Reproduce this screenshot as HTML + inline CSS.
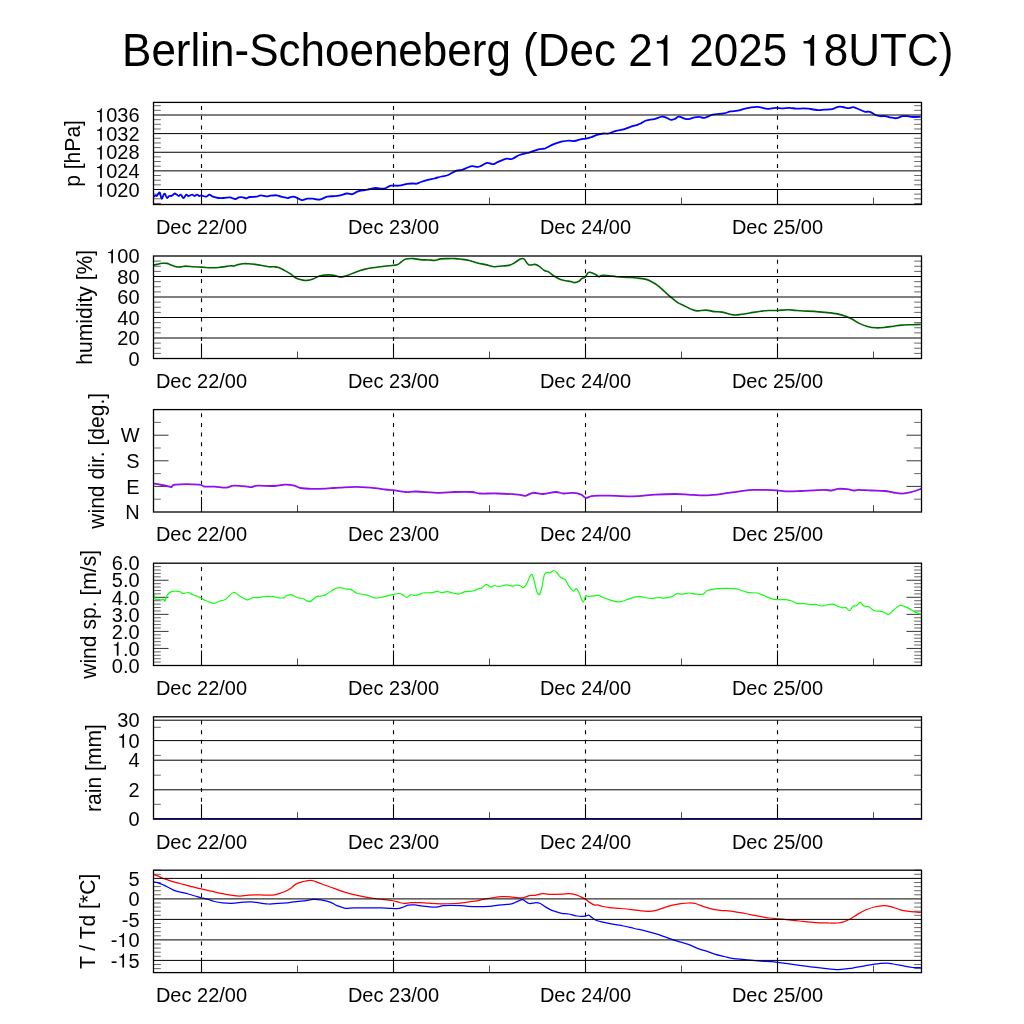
<!DOCTYPE html>
<html><head><meta charset="utf-8"><style>
html,body{margin:0;padding:0;background:#fff;}
svg{display:block;will-change:transform;}
text{font-family:"Liberation Sans",sans-serif;fill:#000;}
</style></head><body>
<svg width="1024" height="1024" viewBox="0 0 1024 1024">
<rect width="1024" height="1024" fill="#fff"/>
<g transform="translate(537.7,65.7) scale(1,1.047)"><text x="0" y="0" text-anchor="middle" font-size="44">Berlin-Schoeneberg (Dec 2  2025  8UTC)</text><path d="M512,0 L689,0 L689,1369 L600,1369 C570,1230 470,1110 300,1094 L196,1094 L196,990 L340,990 C420,990 480,970 512,925 Z" transform="translate(114.90,0) scale(0.02148,-0.02148)"/><path d="M512,0 L689,0 L689,1369 L600,1369 C570,1230 470,1110 300,1094 L196,1094 L196,990 L340,990 C420,990 480,970 512,925 Z" transform="translate(261.66,0) scale(0.02148,-0.02148)"/></g>
<line x1="153.50" y1="203.46" x2="160.80" y2="203.46" stroke="#000" stroke-width="0.6" />
<line x1="914.20" y1="203.46" x2="921.50" y2="203.46" stroke="#000" stroke-width="0.6" />
<line x1="153.50" y1="198.81" x2="160.80" y2="198.81" stroke="#000" stroke-width="0.6" />
<line x1="914.20" y1="198.81" x2="921.50" y2="198.81" stroke="#000" stroke-width="0.6" />
<line x1="153.50" y1="194.15" x2="160.80" y2="194.15" stroke="#000" stroke-width="0.6" />
<line x1="914.20" y1="194.15" x2="921.50" y2="194.15" stroke="#000" stroke-width="0.6" />
<line x1="153.50" y1="184.84" x2="160.80" y2="184.84" stroke="#000" stroke-width="0.6" />
<line x1="914.20" y1="184.84" x2="921.50" y2="184.84" stroke="#000" stroke-width="0.6" />
<line x1="153.50" y1="180.18" x2="160.80" y2="180.18" stroke="#000" stroke-width="0.6" />
<line x1="914.20" y1="180.18" x2="921.50" y2="180.18" stroke="#000" stroke-width="0.6" />
<line x1="153.50" y1="175.53" x2="160.80" y2="175.53" stroke="#000" stroke-width="0.6" />
<line x1="914.20" y1="175.53" x2="921.50" y2="175.53" stroke="#000" stroke-width="0.6" />
<line x1="153.50" y1="166.22" x2="160.80" y2="166.22" stroke="#000" stroke-width="0.6" />
<line x1="914.20" y1="166.22" x2="921.50" y2="166.22" stroke="#000" stroke-width="0.6" />
<line x1="153.50" y1="161.56" x2="160.80" y2="161.56" stroke="#000" stroke-width="0.6" />
<line x1="914.20" y1="161.56" x2="921.50" y2="161.56" stroke="#000" stroke-width="0.6" />
<line x1="153.50" y1="156.90" x2="160.80" y2="156.90" stroke="#000" stroke-width="0.6" />
<line x1="914.20" y1="156.90" x2="921.50" y2="156.90" stroke="#000" stroke-width="0.6" />
<line x1="153.50" y1="147.59" x2="160.80" y2="147.59" stroke="#000" stroke-width="0.6" />
<line x1="914.20" y1="147.59" x2="921.50" y2="147.59" stroke="#000" stroke-width="0.6" />
<line x1="153.50" y1="142.94" x2="160.80" y2="142.94" stroke="#000" stroke-width="0.6" />
<line x1="914.20" y1="142.94" x2="921.50" y2="142.94" stroke="#000" stroke-width="0.6" />
<line x1="153.50" y1="138.28" x2="160.80" y2="138.28" stroke="#000" stroke-width="0.6" />
<line x1="914.20" y1="138.28" x2="921.50" y2="138.28" stroke="#000" stroke-width="0.6" />
<line x1="153.50" y1="128.97" x2="160.80" y2="128.97" stroke="#000" stroke-width="0.6" />
<line x1="914.20" y1="128.97" x2="921.50" y2="128.97" stroke="#000" stroke-width="0.6" />
<line x1="153.50" y1="124.31" x2="160.80" y2="124.31" stroke="#000" stroke-width="0.6" />
<line x1="914.20" y1="124.31" x2="921.50" y2="124.31" stroke="#000" stroke-width="0.6" />
<line x1="153.50" y1="119.66" x2="160.80" y2="119.66" stroke="#000" stroke-width="0.6" />
<line x1="914.20" y1="119.66" x2="921.50" y2="119.66" stroke="#000" stroke-width="0.6" />
<line x1="153.50" y1="110.34" x2="160.80" y2="110.34" stroke="#000" stroke-width="0.6" />
<line x1="914.20" y1="110.34" x2="921.50" y2="110.34" stroke="#000" stroke-width="0.6" />
<line x1="153.50" y1="105.69" x2="160.80" y2="105.69" stroke="#000" stroke-width="0.6" />
<line x1="914.20" y1="105.69" x2="921.50" y2="105.69" stroke="#000" stroke-width="0.6" />
<line x1="201.50" y1="106.10" x2="201.50" y2="189.50" stroke="#000" stroke-width="1.1" stroke-dasharray="4 5.65"/>
<line x1="201.50" y1="189.50" x2="201.50" y2="204.50" stroke="#000" stroke-width="1.1" />
<line x1="393.50" y1="106.10" x2="393.50" y2="189.50" stroke="#000" stroke-width="1.1" stroke-dasharray="4 5.65"/>
<line x1="393.50" y1="189.50" x2="393.50" y2="204.50" stroke="#000" stroke-width="1.1" />
<line x1="585.50" y1="106.10" x2="585.50" y2="189.50" stroke="#000" stroke-width="1.1" stroke-dasharray="4 5.65"/>
<line x1="585.50" y1="189.50" x2="585.50" y2="204.50" stroke="#000" stroke-width="1.1" />
<line x1="777.50" y1="106.10" x2="777.50" y2="189.50" stroke="#000" stroke-width="1.1" stroke-dasharray="4 5.65"/>
<line x1="777.50" y1="189.50" x2="777.50" y2="204.50" stroke="#000" stroke-width="1.1" />
<line x1="297.50" y1="197.50" x2="297.50" y2="204.50" stroke="#000" stroke-width="0.7" />
<line x1="489.50" y1="197.50" x2="489.50" y2="204.50" stroke="#000" stroke-width="0.7" />
<line x1="681.50" y1="197.50" x2="681.50" y2="204.50" stroke="#000" stroke-width="0.7" />
<line x1="873.50" y1="197.50" x2="873.50" y2="204.50" stroke="#000" stroke-width="0.7" />
<path d="M153.8,196.7 C154.08,196.47 155.00,195.42 155.5,195.3 C156.00,195.18 156.35,196.23 156.8,196.0 C157.25,195.77 157.70,194.47 158.2,193.9 C158.70,193.33 159.23,191.80 159.8,192.6 C160.37,193.40 160.95,198.37 161.6,198.7 C162.25,199.03 163.13,195.40 163.7,194.6 C164.27,193.80 164.43,193.33 165.0,193.9 C165.57,194.47 166.42,197.65 167.1,198.0 C167.78,198.35 168.42,196.33 169.1,196.0 C169.78,195.67 170.62,196.12 171.2,196.0 C171.78,195.88 172.03,195.72 172.6,195.3 C173.17,194.88 173.92,193.62 174.6,193.5 C175.28,193.38 176.02,194.18 176.7,194.6 C177.38,195.02 178.02,196.00 178.7,196.0 C179.38,196.00 180.00,194.27 180.8,194.6 C181.60,194.93 182.60,198.00 183.5,198.0 C184.40,198.00 185.40,194.93 186.2,194.6 C187.00,194.27 187.62,195.88 188.3,196.0 C188.98,196.12 189.62,195.53 190.3,195.3 C190.98,195.07 191.72,194.48 192.4,194.6 C193.08,194.72 193.60,196.00 194.4,196.0 C195.20,196.00 196.40,194.60 197.2,194.6 C198.00,194.60 198.52,195.88 199.2,196.0 C199.88,196.12 200.27,195.18 201.3,195.3 C202.33,195.42 204.38,196.58 205.4,196.7 C206.42,196.82 206.72,196.35 207.4,196.0 C208.08,195.65 208.58,194.48 209.5,194.6 C210.42,194.72 211.42,196.13 212.9,196.7 C214.38,197.27 216.58,197.78 218.4,198.0 C220.22,198.22 221.98,198.12 223.8,198.0 C225.62,197.88 227.93,197.30 229.3,197.3 C230.67,197.30 230.97,197.72 232.0,198.0 C233.03,198.28 234.35,199.12 235.5,199.0 C236.65,198.88 237.65,197.58 238.9,197.3 C240.15,197.02 241.75,197.12 243.0,197.3 C244.25,197.48 245.27,198.45 246.4,198.4 C247.53,198.35 248.10,197.28 249.8,197.0 C251.50,196.72 254.78,196.98 256.6,196.7 C258.42,196.42 259.10,195.37 260.7,195.3 C262.30,195.23 264.60,196.23 266.2,196.3 C267.80,196.37 268.58,195.87 270.3,195.7 C272.02,195.53 274.67,195.13 276.5,195.3 C278.33,195.47 279.60,196.28 281.3,196.7 C283.00,197.12 285.55,197.58 286.7,197.8 C287.85,198.02 287.15,198.20 288.2,198.0 C289.25,197.80 291.63,196.67 293.0,196.6 C294.37,196.53 294.92,197.02 296.4,197.6 C297.88,198.18 300.08,199.92 301.9,200.1 C303.72,200.28 305.48,198.93 307.3,198.7 C309.12,198.47 310.73,198.55 312.8,198.7 C314.87,198.85 317.30,199.95 319.7,199.6 C322.10,199.25 324.70,197.17 327.2,196.6 C329.70,196.03 332.53,196.42 334.7,196.2 C336.87,195.98 338.15,195.75 340.2,195.3 C342.25,194.85 344.95,193.68 347.0,193.5 C349.05,193.32 350.68,194.55 352.5,194.2 C354.32,193.85 355.85,192.08 357.9,191.4 C359.95,190.72 362.75,190.50 364.8,190.1 C366.85,189.70 368.38,189.35 370.2,189.0 C372.02,188.65 373.42,188.05 375.7,188.0 C377.98,187.95 381.40,189.08 383.9,188.7 C386.40,188.32 388.20,186.20 390.7,185.7 C393.20,185.20 396.15,186.00 398.9,185.7 C401.65,185.40 404.92,184.27 407.2,183.9 C409.48,183.53 411.00,183.53 412.6,183.5 C414.20,183.47 415.42,183.95 416.8,183.7 C418.18,183.45 419.07,182.63 420.9,182.0 C422.73,181.37 425.52,180.48 427.8,179.9 C430.08,179.32 432.33,179.07 434.6,178.5 C436.87,177.93 439.35,177.00 441.4,176.5 C443.45,176.00 445.30,176.00 446.9,175.5 C448.50,175.00 449.40,174.30 451.0,173.5 C452.60,172.70 454.67,171.30 456.5,170.7 C458.33,170.10 460.18,170.42 462.0,169.9 C463.82,169.38 465.70,168.22 467.4,167.6 C469.10,166.98 470.48,166.32 472.2,166.2 C473.92,166.08 476.22,166.97 477.7,166.9 C479.18,166.83 479.52,166.48 481.1,165.8 C482.68,165.12 485.15,163.07 487.2,162.8 C489.25,162.53 491.68,164.32 493.4,164.2 C495.12,164.08 495.90,162.83 497.5,162.1 C499.10,161.37 501.40,160.37 503.0,159.8 C504.60,159.23 505.62,158.83 507.1,158.7 C508.58,158.57 509.85,159.62 511.9,159.0 C513.95,158.38 516.78,156.00 519.4,155.0 C522.02,154.00 525.33,153.63 527.6,153.0 C529.87,152.37 531.18,151.80 533.0,151.2 C534.82,150.60 536.78,149.82 538.5,149.4 C540.22,148.98 542.22,148.85 543.3,148.7 C544.38,148.55 543.35,149.22 545.0,148.5 C546.65,147.78 550.47,145.53 553.2,144.4 C555.93,143.27 558.78,142.33 561.4,141.7 C564.02,141.07 566.73,140.72 568.9,140.6 C571.07,140.48 572.47,141.20 574.4,141.0 C576.33,140.80 578.57,139.80 580.5,139.4 C582.43,139.00 584.17,138.97 586.0,138.6 C587.83,138.23 589.67,137.82 591.5,137.2 C593.33,136.58 594.95,135.52 597.0,134.9 C599.05,134.28 601.98,133.72 603.8,133.5 C605.62,133.28 605.85,134.05 607.9,133.6 C609.95,133.15 613.48,131.50 616.1,130.8 C618.72,130.10 621.32,130.02 623.6,129.4 C625.88,128.78 627.40,127.90 629.8,127.1 C632.20,126.30 636.18,125.20 638.0,124.6 C639.82,124.00 639.33,124.18 640.7,123.5 C642.07,122.82 643.92,121.23 646.2,120.5 C648.48,119.77 651.78,119.73 654.4,119.1 C657.02,118.47 659.85,116.92 661.9,116.7 C663.95,116.48 665.22,117.28 666.7,117.8 C668.18,118.32 669.43,119.62 670.8,119.8 C672.17,119.98 673.53,119.42 674.9,118.9 C676.27,118.38 677.02,116.65 679.0,116.7 C680.98,116.75 684.35,119.05 686.8,119.2 C689.25,119.35 691.65,117.98 693.7,117.6 C695.75,117.22 697.28,116.87 699.1,116.9 C700.92,116.93 702.32,118.17 704.6,117.8 C706.88,117.43 709.60,115.43 712.8,114.7 C716.00,113.97 720.83,113.95 723.8,113.4 C726.77,112.85 728.33,111.85 730.6,111.4 C732.87,110.95 735.12,111.12 737.4,110.7 C739.68,110.28 742.02,109.47 744.3,108.9 C746.58,108.33 748.83,107.63 751.1,107.3 C753.37,106.97 756.08,106.85 757.9,106.9 C759.72,106.95 760.40,107.27 762.0,107.6 C763.60,107.93 765.22,108.87 767.5,108.9 C769.78,108.93 773.20,107.88 775.7,107.8 C778.20,107.72 780.22,108.40 782.5,108.4 C784.78,108.40 787.12,107.75 789.4,107.8 C791.68,107.85 793.93,108.60 796.2,108.7 C798.47,108.80 800.95,108.40 803.0,108.4 C805.05,108.40 806.17,108.43 808.5,108.7 C810.83,108.97 814.40,109.83 817.0,110.0 C819.60,110.17 821.55,109.85 824.1,109.7 C826.65,109.55 829.97,109.58 832.3,109.1 C834.63,108.62 836.35,107.15 838.1,106.8 C839.85,106.45 841.03,106.77 842.8,107.0 C844.57,107.23 846.93,108.18 848.7,108.2 C850.47,108.22 851.65,106.88 853.4,107.1 C855.15,107.32 857.25,108.72 859.2,109.5 C861.15,110.28 863.33,111.42 865.1,111.8 C866.87,112.18 868.05,111.27 869.8,111.8 C871.55,112.33 873.85,114.27 875.6,115.0 C877.35,115.73 878.73,116.00 880.3,116.2 C881.87,116.40 883.05,115.95 885.0,116.2 C886.95,116.45 890.05,117.37 892.0,117.7 C893.95,118.03 894.93,118.45 896.7,118.2 C898.47,117.95 900.83,116.53 902.6,116.2 C904.37,115.87 905.55,116.07 907.3,116.2 C909.05,116.33 910.87,116.90 913.1,117.0 C915.33,117.10 919.43,116.83 920.7,116.8" fill="none" stroke="#0000ff" stroke-width="1.8" stroke-linejoin="round" stroke-linecap="butt"/>
<line x1="153.50" y1="189.50" x2="921.50" y2="189.50" stroke="#000" stroke-width="1.0" />
<g transform="translate(139.60,196.69) scale(1,1.046)"><text x="0" y="0" text-anchor="end" font-size="20.0"> 020</text><path d="M512,0 L689,0 L689,1369 L600,1369 C570,1230 470,1110 300,1094 L196,1094 L196,990 L340,990 C420,990 480,970 512,925 Z" transform="translate(-44.48,0) scale(0.00977,-0.00977)"/></g>
<line x1="153.50" y1="170.87" x2="921.50" y2="170.87" stroke="#000" stroke-width="1.0" />
<g transform="translate(139.60,178.07) scale(1,1.046)"><text x="0" y="0" text-anchor="end" font-size="20.0"> 024</text><path d="M512,0 L689,0 L689,1369 L600,1369 C570,1230 470,1110 300,1094 L196,1094 L196,990 L340,990 C420,990 480,970 512,925 Z" transform="translate(-44.48,0) scale(0.00977,-0.00977)"/></g>
<line x1="153.50" y1="152.25" x2="921.50" y2="152.25" stroke="#000" stroke-width="1.0" />
<g transform="translate(139.60,159.44) scale(1,1.046)"><text x="0" y="0" text-anchor="end" font-size="20.0"> 028</text><path d="M512,0 L689,0 L689,1369 L600,1369 C570,1230 470,1110 300,1094 L196,1094 L196,990 L340,990 C420,990 480,970 512,925 Z" transform="translate(-44.48,0) scale(0.00977,-0.00977)"/></g>
<line x1="153.50" y1="133.62" x2="921.50" y2="133.62" stroke="#000" stroke-width="1.0" />
<g transform="translate(139.60,140.82) scale(1,1.046)"><text x="0" y="0" text-anchor="end" font-size="20.0"> 032</text><path d="M512,0 L689,0 L689,1369 L600,1369 C570,1230 470,1110 300,1094 L196,1094 L196,990 L340,990 C420,990 480,970 512,925 Z" transform="translate(-44.48,0) scale(0.00977,-0.00977)"/></g>
<line x1="153.50" y1="115.00" x2="921.50" y2="115.00" stroke="#000" stroke-width="1.0" />
<g transform="translate(139.60,122.20) scale(1,1.046)"><text x="0" y="0" text-anchor="end" font-size="20.0"> 036</text><path d="M512,0 L689,0 L689,1369 L600,1369 C570,1230 470,1110 300,1094 L196,1094 L196,990 L340,990 C420,990 480,970 512,925 Z" transform="translate(-44.48,0) scale(0.00977,-0.00977)"/></g>
<rect x="153.5" y="102.4" width="768.0" height="102.1" fill="none" stroke="#000" stroke-width="1.3"/>
<text x="0" y="0" text-anchor="middle" font-size="20.0" transform="translate(201.50,233.80) scale(1,1.046)">Dec 22/00</text>
<text x="0" y="0" text-anchor="middle" font-size="20.0" transform="translate(393.50,233.80) scale(1,1.046)">Dec 23/00</text>
<text x="0" y="0" text-anchor="middle" font-size="20.0" transform="translate(585.50,233.80) scale(1,1.046)">Dec 24/00</text>
<text x="0" y="0" text-anchor="middle" font-size="20.0" transform="translate(777.50,233.80) scale(1,1.046)">Dec 25/00</text>
<text x="0" y="0" text-anchor="middle" font-size="21.1" transform="translate(80.10,153.45) scale(1.046,1) rotate(-90)">p [hPa]</text>
<line x1="153.50" y1="353.38" x2="160.80" y2="353.38" stroke="#000" stroke-width="0.6" />
<line x1="914.20" y1="353.38" x2="921.50" y2="353.38" stroke="#000" stroke-width="0.6" />
<line x1="153.50" y1="348.25" x2="160.80" y2="348.25" stroke="#000" stroke-width="0.6" />
<line x1="914.20" y1="348.25" x2="921.50" y2="348.25" stroke="#000" stroke-width="0.6" />
<line x1="153.50" y1="343.12" x2="160.80" y2="343.12" stroke="#000" stroke-width="0.6" />
<line x1="914.20" y1="343.12" x2="921.50" y2="343.12" stroke="#000" stroke-width="0.6" />
<line x1="153.50" y1="332.88" x2="160.80" y2="332.88" stroke="#000" stroke-width="0.6" />
<line x1="914.20" y1="332.88" x2="921.50" y2="332.88" stroke="#000" stroke-width="0.6" />
<line x1="153.50" y1="327.75" x2="160.80" y2="327.75" stroke="#000" stroke-width="0.6" />
<line x1="914.20" y1="327.75" x2="921.50" y2="327.75" stroke="#000" stroke-width="0.6" />
<line x1="153.50" y1="322.62" x2="160.80" y2="322.62" stroke="#000" stroke-width="0.6" />
<line x1="914.20" y1="322.62" x2="921.50" y2="322.62" stroke="#000" stroke-width="0.6" />
<line x1="153.50" y1="312.38" x2="160.80" y2="312.38" stroke="#000" stroke-width="0.6" />
<line x1="914.20" y1="312.38" x2="921.50" y2="312.38" stroke="#000" stroke-width="0.6" />
<line x1="153.50" y1="307.25" x2="160.80" y2="307.25" stroke="#000" stroke-width="0.6" />
<line x1="914.20" y1="307.25" x2="921.50" y2="307.25" stroke="#000" stroke-width="0.6" />
<line x1="153.50" y1="302.12" x2="160.80" y2="302.12" stroke="#000" stroke-width="0.6" />
<line x1="914.20" y1="302.12" x2="921.50" y2="302.12" stroke="#000" stroke-width="0.6" />
<line x1="153.50" y1="291.88" x2="160.80" y2="291.88" stroke="#000" stroke-width="0.6" />
<line x1="914.20" y1="291.88" x2="921.50" y2="291.88" stroke="#000" stroke-width="0.6" />
<line x1="153.50" y1="286.75" x2="160.80" y2="286.75" stroke="#000" stroke-width="0.6" />
<line x1="914.20" y1="286.75" x2="921.50" y2="286.75" stroke="#000" stroke-width="0.6" />
<line x1="153.50" y1="281.62" x2="160.80" y2="281.62" stroke="#000" stroke-width="0.6" />
<line x1="914.20" y1="281.62" x2="921.50" y2="281.62" stroke="#000" stroke-width="0.6" />
<line x1="153.50" y1="271.38" x2="160.80" y2="271.38" stroke="#000" stroke-width="0.6" />
<line x1="914.20" y1="271.38" x2="921.50" y2="271.38" stroke="#000" stroke-width="0.6" />
<line x1="153.50" y1="266.25" x2="160.80" y2="266.25" stroke="#000" stroke-width="0.6" />
<line x1="914.20" y1="266.25" x2="921.50" y2="266.25" stroke="#000" stroke-width="0.6" />
<line x1="153.50" y1="261.12" x2="160.80" y2="261.12" stroke="#000" stroke-width="0.6" />
<line x1="914.20" y1="261.12" x2="921.50" y2="261.12" stroke="#000" stroke-width="0.6" />
<line x1="201.50" y1="259.70" x2="201.50" y2="343.50" stroke="#000" stroke-width="1.1" stroke-dasharray="4 5.65"/>
<line x1="201.50" y1="343.50" x2="201.50" y2="358.50" stroke="#000" stroke-width="1.1" />
<line x1="393.50" y1="259.70" x2="393.50" y2="343.50" stroke="#000" stroke-width="1.1" stroke-dasharray="4 5.65"/>
<line x1="393.50" y1="343.50" x2="393.50" y2="358.50" stroke="#000" stroke-width="1.1" />
<line x1="585.50" y1="259.70" x2="585.50" y2="343.50" stroke="#000" stroke-width="1.1" stroke-dasharray="4 5.65"/>
<line x1="585.50" y1="343.50" x2="585.50" y2="358.50" stroke="#000" stroke-width="1.1" />
<line x1="777.50" y1="259.70" x2="777.50" y2="343.50" stroke="#000" stroke-width="1.1" stroke-dasharray="4 5.65"/>
<line x1="777.50" y1="343.50" x2="777.50" y2="358.50" stroke="#000" stroke-width="1.1" />
<line x1="297.50" y1="351.50" x2="297.50" y2="358.50" stroke="#000" stroke-width="0.7" />
<line x1="489.50" y1="351.50" x2="489.50" y2="358.50" stroke="#000" stroke-width="0.7" />
<line x1="681.50" y1="351.50" x2="681.50" y2="358.50" stroke="#000" stroke-width="0.7" />
<line x1="873.50" y1="351.50" x2="873.50" y2="358.50" stroke="#000" stroke-width="0.7" />
<path d="M153.4,265.3 C153.97,265.15 155.32,264.73 156.8,264.4 C158.28,264.07 160.58,263.47 162.3,263.3 C164.02,263.13 165.73,263.15 167.1,263.4 C168.47,263.65 169.02,264.23 170.5,264.8 C171.98,265.37 174.18,266.47 176.0,266.8 C177.82,267.13 179.82,266.92 181.4,266.8 C182.98,266.68 183.43,266.10 185.5,266.1 C187.57,266.10 191.05,266.63 193.8,266.8 C196.55,266.97 199.27,266.93 202.0,267.1 C204.73,267.27 207.47,267.73 210.2,267.8 C212.93,267.87 215.67,267.73 218.4,267.5 C221.13,267.27 224.55,266.70 226.6,266.4 C228.65,266.10 229.57,265.77 230.7,265.7 C231.83,265.63 232.27,266.15 233.4,266.0 C234.53,265.85 235.90,265.18 237.5,264.8 C239.10,264.42 241.18,263.88 243.0,263.7 C244.82,263.52 246.35,263.58 248.4,263.7 C250.45,263.82 253.02,264.10 255.3,264.4 C257.58,264.70 259.83,265.10 262.1,265.5 C264.37,265.90 266.85,266.58 268.9,266.8 C270.95,267.02 272.80,266.68 274.4,266.8 C276.00,266.92 276.90,266.93 278.5,267.5 C280.10,268.07 282.00,269.13 284.0,270.2 C286.00,271.27 288.52,272.60 290.5,273.9 C292.48,275.20 294.08,277.02 295.9,278.0 C297.72,278.98 299.57,279.40 301.4,279.8 C303.23,280.20 304.85,280.58 306.9,280.4 C308.95,280.22 311.43,279.48 313.7,278.7 C315.97,277.92 317.98,276.33 320.5,275.7 C323.02,275.07 326.28,274.90 328.8,274.9 C331.32,274.90 333.55,275.33 335.6,275.7 C337.65,276.07 339.05,277.17 341.1,277.1 C343.15,277.03 345.40,276.17 347.9,275.3 C350.40,274.43 353.37,272.88 356.1,271.9 C358.83,270.92 361.57,270.08 364.3,269.4 C367.03,268.72 369.77,268.25 372.5,267.8 C375.23,267.35 377.97,267.05 380.7,266.7 C383.43,266.35 386.17,266.02 388.9,265.7 C391.63,265.38 395.05,265.42 397.1,264.8 C399.15,264.18 399.83,262.93 401.2,262.0 C402.57,261.07 403.25,259.77 405.3,259.2 C407.35,258.63 411.05,258.53 413.5,258.6 C415.95,258.67 417.55,259.37 420.0,259.6 C422.45,259.83 425.58,259.88 428.2,260.0 C430.82,260.12 433.65,260.48 435.7,260.3 C437.75,260.12 438.57,259.18 440.5,258.9 C442.43,258.62 444.80,258.65 447.3,258.6 C449.80,258.55 453.22,258.50 455.5,258.6 C457.78,258.70 458.72,258.88 461.0,259.2 C463.28,259.52 466.47,259.87 469.2,260.5 C471.93,261.13 474.67,262.32 477.4,263.0 C480.13,263.68 482.87,263.98 485.6,264.6 C488.33,265.22 491.07,266.47 493.8,266.7 C496.53,266.93 499.48,266.22 502.0,266.0 C504.52,265.78 506.85,265.90 508.9,265.4 C510.95,264.90 512.48,264.02 514.3,263.0 C516.12,261.98 518.20,259.98 519.8,259.3 C521.40,258.62 522.42,257.98 523.9,258.9 C525.38,259.82 526.88,263.88 528.7,264.8 C530.52,265.72 533.10,264.18 534.8,264.4 C536.50,264.62 537.30,265.08 538.9,266.1 C540.50,267.12 542.80,269.53 544.4,270.5 C546.00,271.47 546.90,270.98 548.5,271.9 C550.10,272.82 552.00,274.72 554.0,276.0 C556.00,277.28 558.52,278.80 560.5,279.6 C562.48,280.40 564.20,280.48 565.9,280.8 C567.60,281.12 569.22,281.20 570.7,281.5 C572.18,281.80 573.43,282.65 574.8,282.6 C576.17,282.55 577.75,281.85 578.9,281.2 C580.05,280.55 580.67,279.38 581.7,278.7 C582.73,278.02 584.08,278.05 585.1,277.1 C586.12,276.15 587.00,273.80 587.8,273.0 C588.60,272.20 588.53,272.00 589.9,272.3 C591.27,272.60 594.52,274.07 596.0,274.8 C597.48,275.53 597.88,276.58 598.8,276.7 C599.72,276.82 599.68,275.67 601.5,275.5 C603.32,275.33 607.20,275.50 609.7,275.7 C612.20,275.90 613.32,276.42 616.5,276.7 C619.68,276.98 625.38,277.18 628.8,277.4 C632.22,277.62 634.27,277.72 637.0,278.0 C639.73,278.28 642.92,278.57 645.2,279.1 C647.48,279.63 648.65,280.17 650.7,281.2 C652.75,282.23 655.22,283.60 657.5,285.3 C659.78,287.00 662.23,289.48 664.4,291.4 C666.57,293.32 668.35,294.98 670.5,296.8 C672.65,298.62 674.80,300.70 677.3,302.3 C679.80,303.90 683.00,305.18 685.5,306.4 C688.00,307.62 690.25,308.85 692.3,309.6 C694.35,310.35 695.52,310.82 697.8,310.9 C700.08,310.98 703.27,309.98 706.0,310.1 C708.73,310.22 711.47,311.27 714.2,311.6 C716.93,311.93 719.20,311.55 722.4,312.1 C725.60,312.65 730.20,314.53 733.4,314.9 C736.60,315.27 738.87,314.62 741.6,314.3 C744.33,313.98 746.62,313.52 749.8,313.0 C752.98,312.48 757.52,311.62 760.7,311.2 C763.88,310.78 766.17,310.62 768.9,310.5 C771.63,310.38 773.90,310.62 777.1,310.5 C780.30,310.38 785.12,309.82 788.1,309.8 C791.08,309.78 792.48,310.20 795.0,310.4 C797.52,310.60 800.02,310.83 803.2,311.0 C806.38,311.17 810.45,311.17 814.1,311.4 C817.75,311.63 821.22,311.98 825.1,312.4 C828.98,312.82 833.98,313.27 837.4,313.9 C840.82,314.53 843.10,315.30 845.6,316.2 C848.10,317.10 850.12,318.10 852.4,319.3 C854.68,320.50 856.78,322.22 859.3,323.4 C861.82,324.58 864.77,325.67 867.5,326.4 C870.23,327.13 872.97,327.62 875.7,327.8 C878.43,327.98 880.95,327.77 883.9,327.5 C886.85,327.23 890.45,326.60 893.4,326.2 C896.35,325.80 898.40,325.35 901.6,325.1 C904.80,324.85 909.40,324.82 912.6,324.7 C915.80,324.58 919.43,324.45 920.8,324.4" fill="none" stroke="#006400" stroke-width="1.6" stroke-linejoin="round" stroke-linecap="butt"/>
<line x1="153.50" y1="338.00" x2="921.50" y2="338.00" stroke="#000" stroke-width="1.0" />
<line x1="153.50" y1="317.50" x2="921.50" y2="317.50" stroke="#000" stroke-width="1.0" />
<line x1="153.50" y1="297.00" x2="921.50" y2="297.00" stroke="#000" stroke-width="1.0" />
<line x1="153.50" y1="276.50" x2="921.50" y2="276.50" stroke="#000" stroke-width="1.0" />
<text x="0" y="0" text-anchor="end" font-size="20.0" transform="translate(139.60,365.70) scale(1,1.046)">0</text>
<text x="0" y="0" text-anchor="end" font-size="20.0" transform="translate(139.60,345.20) scale(1,1.046)">20</text>
<text x="0" y="0" text-anchor="end" font-size="20.0" transform="translate(139.60,324.70) scale(1,1.046)">40</text>
<text x="0" y="0" text-anchor="end" font-size="20.0" transform="translate(139.60,304.20) scale(1,1.046)">60</text>
<text x="0" y="0" text-anchor="end" font-size="20.0" transform="translate(139.60,283.70) scale(1,1.046)">80</text>
<g transform="translate(139.60,263.20) scale(1,1.046)"><text x="0" y="0" text-anchor="end" font-size="20.0"> 00</text><path d="M512,0 L689,0 L689,1369 L600,1369 C570,1230 470,1110 300,1094 L196,1094 L196,990 L340,990 C420,990 480,970 512,925 Z" transform="translate(-33.36,0) scale(0.00977,-0.00977)"/></g>
<rect x="153.5" y="256.0" width="768.0" height="102.5" fill="none" stroke="#000" stroke-width="1.3"/>
<text x="0" y="0" text-anchor="middle" font-size="20.0" transform="translate(201.50,387.80) scale(1,1.046)">Dec 22/00</text>
<text x="0" y="0" text-anchor="middle" font-size="20.0" transform="translate(393.50,387.80) scale(1,1.046)">Dec 23/00</text>
<text x="0" y="0" text-anchor="middle" font-size="20.0" transform="translate(585.50,387.80) scale(1,1.046)">Dec 24/00</text>
<text x="0" y="0" text-anchor="middle" font-size="20.0" transform="translate(777.50,387.80) scale(1,1.046)">Dec 25/00</text>
<text x="0" y="0" text-anchor="middle" font-size="21.1" transform="translate(92.00,307.25) scale(1.046,1) rotate(-90)">humidity [%]</text>
<line x1="153.50" y1="499.20" x2="160.80" y2="499.20" stroke="#000" stroke-width="0.6" />
<line x1="914.20" y1="499.20" x2="921.50" y2="499.20" stroke="#000" stroke-width="0.6" />
<line x1="153.50" y1="473.60" x2="160.80" y2="473.60" stroke="#000" stroke-width="0.6" />
<line x1="914.20" y1="473.60" x2="921.50" y2="473.60" stroke="#000" stroke-width="0.6" />
<line x1="153.50" y1="448.00" x2="160.80" y2="448.00" stroke="#000" stroke-width="0.6" />
<line x1="914.20" y1="448.00" x2="921.50" y2="448.00" stroke="#000" stroke-width="0.6" />
<line x1="153.50" y1="422.40" x2="160.80" y2="422.40" stroke="#000" stroke-width="0.6" />
<line x1="914.20" y1="422.40" x2="921.50" y2="422.40" stroke="#000" stroke-width="0.6" />
<line x1="153.50" y1="486.40" x2="168.50" y2="486.40" stroke="#000" stroke-width="0.8" />
<line x1="906.50" y1="486.40" x2="921.50" y2="486.40" stroke="#000" stroke-width="0.8" />
<line x1="153.50" y1="460.80" x2="168.50" y2="460.80" stroke="#000" stroke-width="0.8" />
<line x1="906.50" y1="460.80" x2="921.50" y2="460.80" stroke="#000" stroke-width="0.8" />
<line x1="153.50" y1="435.20" x2="168.50" y2="435.20" stroke="#000" stroke-width="0.8" />
<line x1="906.50" y1="435.20" x2="921.50" y2="435.20" stroke="#000" stroke-width="0.8" />
<text x="0" y="0" text-anchor="end" font-size="20.0" transform="translate(139.60,519.20) scale(1,1.046)">N</text>
<text x="0" y="0" text-anchor="end" font-size="20.0" transform="translate(139.60,493.60) scale(1,1.046)">E</text>
<text x="0" y="0" text-anchor="end" font-size="20.0" transform="translate(139.60,468.00) scale(1,1.046)">S</text>
<text x="0" y="0" text-anchor="end" font-size="20.0" transform="translate(139.60,442.40) scale(1,1.046)">W</text>
<line x1="201.50" y1="413.30" x2="201.50" y2="497.00" stroke="#000" stroke-width="1.1" stroke-dasharray="4 5.65"/>
<line x1="201.50" y1="497.00" x2="201.50" y2="512.00" stroke="#000" stroke-width="1.1" />
<line x1="393.50" y1="413.30" x2="393.50" y2="497.00" stroke="#000" stroke-width="1.1" stroke-dasharray="4 5.65"/>
<line x1="393.50" y1="497.00" x2="393.50" y2="512.00" stroke="#000" stroke-width="1.1" />
<line x1="585.50" y1="413.30" x2="585.50" y2="497.00" stroke="#000" stroke-width="1.1" stroke-dasharray="4 5.65"/>
<line x1="585.50" y1="497.00" x2="585.50" y2="512.00" stroke="#000" stroke-width="1.1" />
<line x1="777.50" y1="413.30" x2="777.50" y2="497.00" stroke="#000" stroke-width="1.1" stroke-dasharray="4 5.65"/>
<line x1="777.50" y1="497.00" x2="777.50" y2="512.00" stroke="#000" stroke-width="1.1" />
<line x1="297.50" y1="505.00" x2="297.50" y2="512.00" stroke="#000" stroke-width="0.7" />
<line x1="489.50" y1="505.00" x2="489.50" y2="512.00" stroke="#000" stroke-width="0.7" />
<line x1="681.50" y1="505.00" x2="681.50" y2="512.00" stroke="#000" stroke-width="0.7" />
<line x1="873.50" y1="505.00" x2="873.50" y2="512.00" stroke="#000" stroke-width="0.7" />
<path d="M153.9,483.7 C155.20,483.92 159.10,484.52 161.7,485.0 C164.30,485.48 167.87,486.23 169.5,486.6 C171.13,486.97 170.52,487.53 171.5,487.2 C172.48,486.87 170.85,485.03 175.4,484.6 C179.95,484.17 193.92,484.27 198.8,484.6 C203.68,484.93 202.08,486.27 204.7,486.6 C207.32,486.93 210.92,486.43 214.5,486.6 C218.08,486.77 222.95,487.77 226.2,487.6 C229.45,487.43 230.42,485.77 234.0,485.6 C237.58,485.43 244.77,486.33 247.7,486.6 C250.63,486.87 249.98,487.37 251.6,487.2 C253.22,487.03 253.50,485.80 257.4,485.6 C261.30,485.40 270.43,486.17 275.0,486.0 C279.57,485.83 281.55,484.67 284.8,484.6 C288.05,484.53 291.90,485.03 294.5,485.6 C297.10,486.17 297.47,487.45 300.4,488.0 C303.33,488.55 307.87,488.80 312.1,488.9 C316.33,489.00 322.22,488.75 325.8,488.6 C329.38,488.45 331.23,488.15 333.6,488.0 C335.97,487.85 336.40,487.88 340.0,487.7 C343.60,487.52 350.12,486.90 355.2,486.9 C360.28,486.90 365.42,487.27 370.5,487.7 C375.58,488.13 381.90,489.08 385.7,489.5 C389.50,489.92 389.92,489.78 393.3,490.2 C396.68,490.62 402.18,491.78 406.0,492.0 C409.82,492.22 410.70,491.37 416.2,491.5 C421.70,491.63 432.65,492.72 439.0,492.8 C445.35,492.88 448.80,492.13 454.3,492.0 C459.80,491.87 467.77,491.75 472.0,492.0 C476.23,492.25 475.47,493.25 479.7,493.5 C483.93,493.75 491.05,493.32 497.4,493.5 C503.75,493.68 513.13,494.22 517.8,494.6 C522.47,494.98 522.87,496.10 525.4,495.8 C527.93,495.50 530.03,493.10 533.0,492.8 C535.97,492.50 539.40,494.13 543.2,494.0 C547.00,493.87 552.42,492.08 555.8,492.0 C559.18,491.92 560.53,493.37 563.5,493.5 C566.47,493.63 570.65,492.62 573.6,492.8 C576.55,492.98 579.17,493.75 581.2,494.6 C583.23,495.45 584.10,497.65 585.8,497.9 C587.50,498.15 589.03,496.48 591.4,496.1 C593.77,495.72 596.97,495.68 600.0,495.6 C603.03,495.52 604.18,495.48 609.6,495.6 C615.02,495.72 624.87,496.47 632.5,496.3 C640.13,496.13 648.32,494.98 655.4,494.6 C662.48,494.22 669.55,494.00 675.0,494.0 C680.45,494.00 683.93,494.37 688.1,494.6 C692.27,494.83 695.82,495.35 700.0,495.4 C704.18,495.45 708.80,495.27 713.2,494.9 C717.60,494.53 722.00,493.78 726.4,493.2 C730.80,492.62 735.22,491.95 739.6,491.4 C743.98,490.85 748.32,490.15 752.7,489.9 C757.08,489.65 761.87,489.83 765.9,489.9 C769.93,489.97 773.23,490.05 776.9,490.3 C780.57,490.55 783.87,491.28 787.9,491.4 C791.93,491.52 796.70,491.18 801.1,491.0 C805.50,490.82 810.28,490.48 814.3,490.3 C818.32,490.12 822.28,489.87 825.2,489.9 C828.12,489.93 829.60,490.68 831.8,490.5 C834.00,490.32 835.83,489.02 838.4,488.8 C840.97,488.58 844.63,488.92 847.2,489.2 C849.77,489.48 851.97,490.38 853.8,490.5 C855.63,490.62 855.27,489.90 858.2,489.9 C861.13,489.90 867.00,490.32 871.4,490.5 C875.80,490.68 880.93,490.67 884.6,491.0 C888.27,491.33 890.47,492.07 893.4,492.5 C896.33,492.93 899.27,493.67 902.2,493.6 C905.13,493.53 907.83,492.90 911.0,492.1 C914.17,491.30 919.50,489.35 921.2,488.8" fill="none" stroke="#9010ec" stroke-width="1.8" stroke-linejoin="round" stroke-linecap="butt"/>
<rect x="153.5" y="409.6" width="768.0" height="102.39999999999998" fill="none" stroke="#000" stroke-width="1.3"/>
<text x="0" y="0" text-anchor="middle" font-size="20.0" transform="translate(201.50,541.30) scale(1,1.046)">Dec 22/00</text>
<text x="0" y="0" text-anchor="middle" font-size="20.0" transform="translate(393.50,541.30) scale(1,1.046)">Dec 23/00</text>
<text x="0" y="0" text-anchor="middle" font-size="20.0" transform="translate(585.50,541.30) scale(1,1.046)">Dec 24/00</text>
<text x="0" y="0" text-anchor="middle" font-size="20.0" transform="translate(777.50,541.30) scale(1,1.046)">Dec 25/00</text>
<text x="0" y="0" text-anchor="middle" font-size="21.1" transform="translate(103.70,460.80) scale(1.046,1) rotate(-90)">wind dir. [deg.]</text>
<line x1="153.50" y1="662.09" x2="160.80" y2="662.09" stroke="#000" stroke-width="0.6" />
<line x1="914.20" y1="662.09" x2="921.50" y2="662.09" stroke="#000" stroke-width="0.6" />
<line x1="153.50" y1="658.68" x2="160.80" y2="658.68" stroke="#000" stroke-width="0.6" />
<line x1="914.20" y1="658.68" x2="921.50" y2="658.68" stroke="#000" stroke-width="0.6" />
<line x1="153.50" y1="655.27" x2="160.80" y2="655.27" stroke="#000" stroke-width="0.6" />
<line x1="914.20" y1="655.27" x2="921.50" y2="655.27" stroke="#000" stroke-width="0.6" />
<line x1="153.50" y1="651.86" x2="160.80" y2="651.86" stroke="#000" stroke-width="0.6" />
<line x1="914.20" y1="651.86" x2="921.50" y2="651.86" stroke="#000" stroke-width="0.6" />
<line x1="153.50" y1="645.04" x2="160.80" y2="645.04" stroke="#000" stroke-width="0.6" />
<line x1="914.20" y1="645.04" x2="921.50" y2="645.04" stroke="#000" stroke-width="0.6" />
<line x1="153.50" y1="641.63" x2="160.80" y2="641.63" stroke="#000" stroke-width="0.6" />
<line x1="914.20" y1="641.63" x2="921.50" y2="641.63" stroke="#000" stroke-width="0.6" />
<line x1="153.50" y1="638.22" x2="160.80" y2="638.22" stroke="#000" stroke-width="0.6" />
<line x1="914.20" y1="638.22" x2="921.50" y2="638.22" stroke="#000" stroke-width="0.6" />
<line x1="153.50" y1="634.81" x2="160.80" y2="634.81" stroke="#000" stroke-width="0.6" />
<line x1="914.20" y1="634.81" x2="921.50" y2="634.81" stroke="#000" stroke-width="0.6" />
<line x1="153.50" y1="627.99" x2="160.80" y2="627.99" stroke="#000" stroke-width="0.6" />
<line x1="914.20" y1="627.99" x2="921.50" y2="627.99" stroke="#000" stroke-width="0.6" />
<line x1="153.50" y1="624.58" x2="160.80" y2="624.58" stroke="#000" stroke-width="0.6" />
<line x1="914.20" y1="624.58" x2="921.50" y2="624.58" stroke="#000" stroke-width="0.6" />
<line x1="153.50" y1="621.17" x2="160.80" y2="621.17" stroke="#000" stroke-width="0.6" />
<line x1="914.20" y1="621.17" x2="921.50" y2="621.17" stroke="#000" stroke-width="0.6" />
<line x1="153.50" y1="617.76" x2="160.80" y2="617.76" stroke="#000" stroke-width="0.6" />
<line x1="914.20" y1="617.76" x2="921.50" y2="617.76" stroke="#000" stroke-width="0.6" />
<line x1="153.50" y1="610.94" x2="160.80" y2="610.94" stroke="#000" stroke-width="0.6" />
<line x1="914.20" y1="610.94" x2="921.50" y2="610.94" stroke="#000" stroke-width="0.6" />
<line x1="153.50" y1="607.53" x2="160.80" y2="607.53" stroke="#000" stroke-width="0.6" />
<line x1="914.20" y1="607.53" x2="921.50" y2="607.53" stroke="#000" stroke-width="0.6" />
<line x1="153.50" y1="604.12" x2="160.80" y2="604.12" stroke="#000" stroke-width="0.6" />
<line x1="914.20" y1="604.12" x2="921.50" y2="604.12" stroke="#000" stroke-width="0.6" />
<line x1="153.50" y1="600.71" x2="160.80" y2="600.71" stroke="#000" stroke-width="0.6" />
<line x1="914.20" y1="600.71" x2="921.50" y2="600.71" stroke="#000" stroke-width="0.6" />
<line x1="153.50" y1="593.89" x2="160.80" y2="593.89" stroke="#000" stroke-width="0.6" />
<line x1="914.20" y1="593.89" x2="921.50" y2="593.89" stroke="#000" stroke-width="0.6" />
<line x1="153.50" y1="590.48" x2="160.80" y2="590.48" stroke="#000" stroke-width="0.6" />
<line x1="914.20" y1="590.48" x2="921.50" y2="590.48" stroke="#000" stroke-width="0.6" />
<line x1="153.50" y1="587.07" x2="160.80" y2="587.07" stroke="#000" stroke-width="0.6" />
<line x1="914.20" y1="587.07" x2="921.50" y2="587.07" stroke="#000" stroke-width="0.6" />
<line x1="153.50" y1="583.66" x2="160.80" y2="583.66" stroke="#000" stroke-width="0.6" />
<line x1="914.20" y1="583.66" x2="921.50" y2="583.66" stroke="#000" stroke-width="0.6" />
<line x1="153.50" y1="576.84" x2="160.80" y2="576.84" stroke="#000" stroke-width="0.6" />
<line x1="914.20" y1="576.84" x2="921.50" y2="576.84" stroke="#000" stroke-width="0.6" />
<line x1="153.50" y1="573.43" x2="160.80" y2="573.43" stroke="#000" stroke-width="0.6" />
<line x1="914.20" y1="573.43" x2="921.50" y2="573.43" stroke="#000" stroke-width="0.6" />
<line x1="153.50" y1="570.02" x2="160.80" y2="570.02" stroke="#000" stroke-width="0.6" />
<line x1="914.20" y1="570.02" x2="921.50" y2="570.02" stroke="#000" stroke-width="0.6" />
<line x1="153.50" y1="566.61" x2="160.80" y2="566.61" stroke="#000" stroke-width="0.6" />
<line x1="914.20" y1="566.61" x2="921.50" y2="566.61" stroke="#000" stroke-width="0.6" />
<line x1="153.50" y1="648.45" x2="168.50" y2="648.45" stroke="#000" stroke-width="0.8" />
<line x1="906.50" y1="648.45" x2="921.50" y2="648.45" stroke="#000" stroke-width="0.8" />
<line x1="153.50" y1="631.40" x2="168.50" y2="631.40" stroke="#000" stroke-width="0.8" />
<line x1="906.50" y1="631.40" x2="921.50" y2="631.40" stroke="#000" stroke-width="0.8" />
<line x1="153.50" y1="614.35" x2="168.50" y2="614.35" stroke="#000" stroke-width="0.8" />
<line x1="906.50" y1="614.35" x2="921.50" y2="614.35" stroke="#000" stroke-width="0.8" />
<line x1="153.50" y1="597.30" x2="168.50" y2="597.30" stroke="#000" stroke-width="0.8" />
<line x1="906.50" y1="597.30" x2="921.50" y2="597.30" stroke="#000" stroke-width="0.8" />
<line x1="153.50" y1="580.25" x2="168.50" y2="580.25" stroke="#000" stroke-width="0.8" />
<line x1="906.50" y1="580.25" x2="921.50" y2="580.25" stroke="#000" stroke-width="0.8" />
<text x="0" y="0" text-anchor="end" font-size="20.0" transform="translate(139.60,672.70) scale(1,1.046)">0.0</text>
<g transform="translate(139.60,655.65) scale(1,1.046)"><text x="0" y="0" text-anchor="end" font-size="20.0"> .0</text><path d="M512,0 L689,0 L689,1369 L600,1369 C570,1230 470,1110 300,1094 L196,1094 L196,990 L340,990 C420,990 480,970 512,925 Z" transform="translate(-27.79,0) scale(0.00977,-0.00977)"/></g>
<text x="0" y="0" text-anchor="end" font-size="20.0" transform="translate(139.60,638.60) scale(1,1.046)">2.0</text>
<text x="0" y="0" text-anchor="end" font-size="20.0" transform="translate(139.60,621.55) scale(1,1.046)">3.0</text>
<text x="0" y="0" text-anchor="end" font-size="20.0" transform="translate(139.60,604.50) scale(1,1.046)">4.0</text>
<text x="0" y="0" text-anchor="end" font-size="20.0" transform="translate(139.60,587.45) scale(1,1.046)">5.0</text>
<text x="0" y="0" text-anchor="end" font-size="20.0" transform="translate(139.60,570.40) scale(1,1.046)">6.0</text>
<line x1="201.50" y1="566.90" x2="201.50" y2="650.50" stroke="#000" stroke-width="1.1" stroke-dasharray="4 5.65"/>
<line x1="201.50" y1="650.50" x2="201.50" y2="665.50" stroke="#000" stroke-width="1.1" />
<line x1="393.50" y1="566.90" x2="393.50" y2="650.50" stroke="#000" stroke-width="1.1" stroke-dasharray="4 5.65"/>
<line x1="393.50" y1="650.50" x2="393.50" y2="665.50" stroke="#000" stroke-width="1.1" />
<line x1="585.50" y1="566.90" x2="585.50" y2="650.50" stroke="#000" stroke-width="1.1" stroke-dasharray="4 5.65"/>
<line x1="585.50" y1="650.50" x2="585.50" y2="665.50" stroke="#000" stroke-width="1.1" />
<line x1="777.50" y1="566.90" x2="777.50" y2="650.50" stroke="#000" stroke-width="1.1" stroke-dasharray="4 5.65"/>
<line x1="777.50" y1="650.50" x2="777.50" y2="665.50" stroke="#000" stroke-width="1.1" />
<line x1="297.50" y1="658.50" x2="297.50" y2="665.50" stroke="#000" stroke-width="0.7" />
<line x1="489.50" y1="658.50" x2="489.50" y2="665.50" stroke="#000" stroke-width="0.7" />
<line x1="681.50" y1="658.50" x2="681.50" y2="665.50" stroke="#000" stroke-width="0.7" />
<line x1="873.50" y1="658.50" x2="873.50" y2="665.50" stroke="#000" stroke-width="0.7" />
<path d="M153.8,592.8 C153.97,593.82 154.07,597.82 154.8,598.9 C155.53,599.98 157.18,599.13 158.2,599.3 C159.22,599.47 159.98,599.90 160.9,599.9 C161.82,599.90 163.02,599.12 163.7,599.3 C164.38,599.48 164.43,601.68 165.0,601.0 C165.57,600.32 165.95,596.80 167.1,595.2 C168.25,593.60 170.20,592.03 171.9,591.4 C173.60,590.77 175.93,591.35 177.3,591.4 C178.67,591.45 179.18,591.35 180.1,591.7 C181.02,592.05 181.43,593.37 182.8,593.5 C184.17,593.63 186.93,592.43 188.3,592.5 C189.67,592.57 189.87,593.40 191.0,593.9 C192.13,594.40 193.38,594.82 195.1,595.5 C196.82,596.18 199.70,597.20 201.3,598.0 C202.90,598.80 203.45,599.68 204.7,600.3 C205.95,600.92 207.20,601.18 208.8,601.7 C210.40,602.22 212.48,603.52 214.3,603.4 C216.12,603.28 217.88,601.63 219.7,601.0 C221.52,600.37 222.92,601.02 225.2,599.6 C227.48,598.18 231.12,593.18 233.4,592.5 C235.68,591.82 236.62,594.27 238.9,595.5 C241.18,596.73 244.83,599.55 247.1,599.9 C249.37,600.25 250.45,597.98 252.5,597.6 C254.55,597.22 257.57,597.78 259.4,597.6 C261.23,597.42 261.23,596.67 263.5,596.5 C265.77,596.33 270.50,596.38 273.0,596.6 C275.50,596.82 276.67,597.60 278.5,597.8 C280.33,598.00 282.63,598.18 284.0,597.8 C285.37,597.42 285.40,596.00 286.7,595.5 C288.00,595.00 290.03,594.42 291.8,594.8 C293.57,595.18 295.47,597.18 297.3,597.8 C299.13,598.42 300.75,597.85 302.8,598.5 C304.85,599.15 307.33,602.02 309.6,601.7 C311.87,601.38 314.58,597.52 316.4,596.6 C318.22,595.68 318.90,596.53 320.5,596.2 C322.10,595.87 323.72,595.78 326.0,594.6 C328.28,593.42 331.92,590.27 334.2,589.1 C336.48,587.93 337.65,587.60 339.7,587.6 C341.75,587.60 344.68,588.80 346.5,589.1 C348.32,589.40 348.88,588.72 350.6,589.4 C352.32,590.08 354.52,592.33 356.8,593.2 C359.08,594.07 362.37,594.22 364.3,594.6 C366.23,594.98 366.58,594.93 368.4,595.5 C370.22,596.07 372.70,597.77 375.2,598.0 C377.70,598.23 380.88,597.37 383.4,596.9 C385.92,596.43 387.78,595.77 390.3,595.2 C392.82,594.63 396.45,593.60 398.5,593.5 C400.55,593.40 401.23,593.97 402.6,594.6 C403.97,595.23 405.33,597.30 406.7,597.3 C408.07,597.30 409.43,594.90 410.8,594.6 C412.17,594.30 413.08,595.68 414.9,595.5 C416.72,595.32 420.17,593.95 421.7,593.5 C423.23,593.05 422.33,592.95 424.1,592.8 C425.87,592.65 430.13,592.85 432.3,592.6 C434.47,592.35 435.50,591.30 437.1,591.3 C438.70,591.30 440.20,592.53 441.9,592.6 C443.60,592.67 445.48,591.63 447.3,591.7 C449.12,591.77 450.85,592.62 452.8,593.0 C454.75,593.38 456.95,594.22 459.0,594.0 C461.05,593.78 462.72,592.20 465.1,591.7 C467.48,591.20 471.02,591.53 473.3,591.0 C475.58,590.47 477.43,588.97 478.8,588.5 C480.17,588.03 480.25,588.88 481.5,588.2 C482.75,587.52 484.82,584.58 486.3,584.4 C487.78,584.22 489.03,586.92 490.4,587.1 C491.77,587.28 493.02,585.60 494.5,585.5 C495.98,585.40 497.37,586.62 499.3,586.5 C501.23,586.38 503.82,584.85 506.1,584.8 C508.38,584.75 511.40,586.15 513.0,586.2 C514.60,586.25 514.57,585.22 515.7,585.1 C516.83,584.98 518.55,585.08 519.8,585.5 C521.05,585.92 522.07,587.83 523.2,587.6 C524.33,587.37 525.30,586.23 526.6,584.1 C527.90,581.97 529.85,575.82 531.0,574.8 C532.15,573.78 532.52,575.18 533.5,578.0 C534.48,580.82 535.88,588.97 536.9,591.7 C537.92,594.43 538.80,594.98 539.6,594.4 C540.40,593.82 540.90,591.50 541.7,588.2 C542.50,584.90 543.48,577.22 544.4,574.6 C545.32,571.98 546.28,572.80 547.2,572.5 C548.12,572.20 548.77,573.13 549.9,572.8 C551.03,572.47 552.87,570.55 554.0,570.5 C555.13,570.45 555.62,571.37 556.7,572.5 C557.78,573.63 559.07,576.08 560.5,577.3 C561.93,578.52 563.93,578.38 565.3,579.8 C566.67,581.22 567.33,583.93 568.7,585.8 C570.07,587.67 572.25,590.55 573.5,591.0 C574.75,591.45 575.30,588.28 576.2,588.5 C577.10,588.72 577.77,590.07 578.9,592.3 C580.03,594.53 581.85,601.32 583.0,601.9 C584.15,602.48 585.00,596.72 585.8,595.8 C586.60,594.88 586.55,596.40 587.8,596.4 C589.05,596.40 591.47,595.97 593.3,595.8 C595.13,595.63 597.20,595.13 598.8,595.4 C600.40,595.67 601.08,596.65 602.9,597.4 C604.72,598.15 606.97,599.15 609.7,599.9 C612.43,600.65 616.33,601.97 619.3,601.9 C622.27,601.83 624.77,600.33 627.5,599.5 C630.23,598.67 633.43,597.37 635.7,596.9 C637.97,596.43 638.60,596.43 641.1,596.7 C643.60,596.97 647.73,598.37 650.7,598.5 C653.67,598.63 656.62,597.57 658.9,597.5 C661.18,597.43 662.12,598.28 664.4,598.1 C666.68,597.92 670.55,597.13 672.6,596.4 C674.65,595.67 675.10,594.08 676.7,593.7 C678.30,593.32 680.15,594.22 682.2,594.1 C684.25,593.98 686.78,593.00 689.0,593.0 C691.22,593.00 693.17,593.92 695.5,594.1 C697.83,594.28 701.07,594.67 703.0,594.1 C704.93,593.53 704.72,591.60 707.1,590.7 C709.48,589.80 714.23,589.08 717.3,588.7 C720.37,588.32 722.30,588.37 725.5,588.4 C728.70,588.43 732.85,588.23 736.5,588.9 C740.15,589.57 743.98,591.72 747.4,592.4 C750.82,593.08 754.27,592.48 757.0,593.0 C759.73,593.52 761.30,594.52 763.8,595.5 C766.30,596.48 769.72,598.22 772.0,598.9 C774.28,599.58 775.22,599.48 777.5,599.6 C779.78,599.72 783.42,599.42 785.7,599.6 C787.98,599.78 789.38,600.08 791.2,600.7 C793.02,601.32 794.33,602.80 796.6,603.3 C798.87,603.80 802.52,603.47 804.8,603.7 C807.08,603.93 808.47,604.58 810.3,604.7 C812.13,604.82 813.97,604.18 815.8,604.4 C817.63,604.62 819.53,605.90 821.3,606.0 C823.07,606.10 824.52,605.32 826.4,605.0 C828.28,604.68 830.53,603.82 832.6,604.1 C834.67,604.38 837.08,606.08 838.8,606.7 C840.52,607.32 841.77,607.68 842.9,607.8 C844.03,607.92 844.47,606.95 845.6,607.4 C846.73,607.85 848.45,610.72 849.7,610.5 C850.95,610.28 851.97,606.90 853.1,606.1 C854.23,605.30 855.28,606.33 856.5,605.7 C857.72,605.07 859.15,602.25 860.4,602.3 C861.65,602.35 862.60,605.27 864.0,606.0 C865.40,606.73 867.08,605.90 868.8,606.7 C870.52,607.50 872.47,610.05 874.3,610.8 C876.13,611.55 878.20,610.95 879.8,611.2 C881.40,611.45 882.42,611.78 883.9,612.3 C885.38,612.82 887.12,614.65 888.7,614.3 C890.28,613.95 891.58,611.67 893.4,610.2 C895.22,608.73 897.77,606.13 899.6,605.5 C901.43,604.87 902.70,605.83 904.4,606.4 C906.10,606.97 908.10,607.98 909.8,608.9 C911.50,609.82 912.77,611.00 914.6,611.9 C916.43,612.80 919.77,613.90 920.8,614.3" fill="none" stroke="#10ff10" stroke-width="1.2" stroke-linejoin="round" stroke-linecap="butt"/>
<rect x="153.5" y="563.2" width="768.0" height="102.29999999999995" fill="none" stroke="#000" stroke-width="1.3"/>
<text x="0" y="0" text-anchor="middle" font-size="20.0" transform="translate(201.50,694.80) scale(1,1.046)">Dec 22/00</text>
<text x="0" y="0" text-anchor="middle" font-size="20.0" transform="translate(393.50,694.80) scale(1,1.046)">Dec 23/00</text>
<text x="0" y="0" text-anchor="middle" font-size="20.0" transform="translate(585.50,694.80) scale(1,1.046)">Dec 24/00</text>
<text x="0" y="0" text-anchor="middle" font-size="20.0" transform="translate(777.50,694.80) scale(1,1.046)">Dec 25/00</text>
<text x="0" y="0" text-anchor="middle" font-size="21.1" transform="translate(95.80,614.35) scale(1.046,1) rotate(-90)">wind sp. [m/s]</text>
<line x1="153.50" y1="804.30" x2="160.80" y2="804.30" stroke="#000" stroke-width="0.6" />
<line x1="914.20" y1="804.30" x2="921.50" y2="804.30" stroke="#000" stroke-width="0.6" />
<line x1="153.50" y1="775.20" x2="160.80" y2="775.20" stroke="#000" stroke-width="0.6" />
<line x1="914.20" y1="775.20" x2="921.50" y2="775.20" stroke="#000" stroke-width="0.6" />
<line x1="153.50" y1="755.40" x2="160.80" y2="755.40" stroke="#000" stroke-width="0.6" />
<line x1="914.20" y1="755.40" x2="921.50" y2="755.40" stroke="#000" stroke-width="0.6" />
<line x1="153.50" y1="727.30" x2="160.80" y2="727.30" stroke="#000" stroke-width="0.6" />
<line x1="914.20" y1="727.30" x2="921.50" y2="727.30" stroke="#000" stroke-width="0.6" />
<line x1="153.50" y1="789.80" x2="921.50" y2="789.80" stroke="#000" stroke-width="1.0" />
<line x1="153.50" y1="760.20" x2="921.50" y2="760.20" stroke="#000" stroke-width="1.0" />
<line x1="153.50" y1="740.60" x2="921.50" y2="740.60" stroke="#000" stroke-width="1.0" />
<line x1="153.50" y1="720.20" x2="921.50" y2="720.20" stroke="#000" stroke-width="1.0" />
<text x="0" y="0" text-anchor="end" font-size="20.0" transform="translate(139.60,826.10) scale(1,1.046)">0</text>
<text x="0" y="0" text-anchor="end" font-size="20.0" transform="translate(139.60,797.00) scale(1,1.046)">2</text>
<text x="0" y="0" text-anchor="end" font-size="20.0" transform="translate(139.60,767.40) scale(1,1.046)">4</text>
<g transform="translate(139.60,747.80) scale(1,1.046)"><text x="0" y="0" text-anchor="end" font-size="20.0"> 0</text><path d="M512,0 L689,0 L689,1369 L600,1369 C570,1230 470,1110 300,1094 L196,1094 L196,990 L340,990 C420,990 480,970 512,925 Z" transform="translate(-22.25,0) scale(0.00977,-0.00977)"/></g>
<text x="0" y="0" text-anchor="end" font-size="20.0" transform="translate(139.60,727.40) scale(1,1.046)">30</text>
<line x1="201.50" y1="720.50" x2="201.50" y2="804.20" stroke="#000" stroke-width="1.1" stroke-dasharray="4 5.65"/>
<line x1="201.50" y1="804.20" x2="201.50" y2="819.20" stroke="#000" stroke-width="1.1" />
<line x1="393.50" y1="720.50" x2="393.50" y2="804.20" stroke="#000" stroke-width="1.1" stroke-dasharray="4 5.65"/>
<line x1="393.50" y1="804.20" x2="393.50" y2="819.20" stroke="#000" stroke-width="1.1" />
<line x1="585.50" y1="720.50" x2="585.50" y2="804.20" stroke="#000" stroke-width="1.1" stroke-dasharray="4 5.65"/>
<line x1="585.50" y1="804.20" x2="585.50" y2="819.20" stroke="#000" stroke-width="1.1" />
<line x1="777.50" y1="720.50" x2="777.50" y2="804.20" stroke="#000" stroke-width="1.1" stroke-dasharray="4 5.65"/>
<line x1="777.50" y1="804.20" x2="777.50" y2="819.20" stroke="#000" stroke-width="1.1" />
<line x1="297.50" y1="812.20" x2="297.50" y2="819.20" stroke="#000" stroke-width="0.7" />
<line x1="489.50" y1="812.20" x2="489.50" y2="819.20" stroke="#000" stroke-width="0.7" />
<line x1="681.50" y1="812.20" x2="681.50" y2="819.20" stroke="#000" stroke-width="0.7" />
<line x1="873.50" y1="812.20" x2="873.50" y2="819.20" stroke="#000" stroke-width="0.7" />
<line x1="153.50" y1="818.50" x2="921.50" y2="818.50" stroke="#0000ff" stroke-width="1.0" />
<rect x="153.5" y="716.8" width="768.0" height="102.40000000000009" fill="none" stroke="#000" stroke-width="1.3"/>
<text x="0" y="0" text-anchor="middle" font-size="20.0" transform="translate(201.50,848.50) scale(1,1.046)">Dec 22/00</text>
<text x="0" y="0" text-anchor="middle" font-size="20.0" transform="translate(393.50,848.50) scale(1,1.046)">Dec 23/00</text>
<text x="0" y="0" text-anchor="middle" font-size="20.0" transform="translate(585.50,848.50) scale(1,1.046)">Dec 24/00</text>
<text x="0" y="0" text-anchor="middle" font-size="20.0" transform="translate(777.50,848.50) scale(1,1.046)">Dec 25/00</text>
<text x="0" y="0" text-anchor="middle" font-size="21.1" transform="translate(101.20,768.00) scale(1.046,1) rotate(-90)">rain [mm]</text>
<line x1="153.50" y1="968.60" x2="160.80" y2="968.60" stroke="#000" stroke-width="0.6" />
<line x1="914.20" y1="968.60" x2="921.50" y2="968.60" stroke="#000" stroke-width="0.6" />
<line x1="153.50" y1="964.50" x2="160.80" y2="964.50" stroke="#000" stroke-width="0.6" />
<line x1="914.20" y1="964.50" x2="921.50" y2="964.50" stroke="#000" stroke-width="0.6" />
<line x1="153.50" y1="956.30" x2="160.80" y2="956.30" stroke="#000" stroke-width="0.6" />
<line x1="914.20" y1="956.30" x2="921.50" y2="956.30" stroke="#000" stroke-width="0.6" />
<line x1="153.50" y1="952.20" x2="160.80" y2="952.20" stroke="#000" stroke-width="0.6" />
<line x1="914.20" y1="952.20" x2="921.50" y2="952.20" stroke="#000" stroke-width="0.6" />
<line x1="153.50" y1="948.10" x2="160.80" y2="948.10" stroke="#000" stroke-width="0.6" />
<line x1="914.20" y1="948.10" x2="921.50" y2="948.10" stroke="#000" stroke-width="0.6" />
<line x1="153.50" y1="944.00" x2="160.80" y2="944.00" stroke="#000" stroke-width="0.6" />
<line x1="914.20" y1="944.00" x2="921.50" y2="944.00" stroke="#000" stroke-width="0.6" />
<line x1="153.50" y1="935.80" x2="160.80" y2="935.80" stroke="#000" stroke-width="0.6" />
<line x1="914.20" y1="935.80" x2="921.50" y2="935.80" stroke="#000" stroke-width="0.6" />
<line x1="153.50" y1="931.70" x2="160.80" y2="931.70" stroke="#000" stroke-width="0.6" />
<line x1="914.20" y1="931.70" x2="921.50" y2="931.70" stroke="#000" stroke-width="0.6" />
<line x1="153.50" y1="927.60" x2="160.80" y2="927.60" stroke="#000" stroke-width="0.6" />
<line x1="914.20" y1="927.60" x2="921.50" y2="927.60" stroke="#000" stroke-width="0.6" />
<line x1="153.50" y1="923.50" x2="160.80" y2="923.50" stroke="#000" stroke-width="0.6" />
<line x1="914.20" y1="923.50" x2="921.50" y2="923.50" stroke="#000" stroke-width="0.6" />
<line x1="153.50" y1="915.30" x2="160.80" y2="915.30" stroke="#000" stroke-width="0.6" />
<line x1="914.20" y1="915.30" x2="921.50" y2="915.30" stroke="#000" stroke-width="0.6" />
<line x1="153.50" y1="911.20" x2="160.80" y2="911.20" stroke="#000" stroke-width="0.6" />
<line x1="914.20" y1="911.20" x2="921.50" y2="911.20" stroke="#000" stroke-width="0.6" />
<line x1="153.50" y1="907.10" x2="160.80" y2="907.10" stroke="#000" stroke-width="0.6" />
<line x1="914.20" y1="907.10" x2="921.50" y2="907.10" stroke="#000" stroke-width="0.6" />
<line x1="153.50" y1="903.00" x2="160.80" y2="903.00" stroke="#000" stroke-width="0.6" />
<line x1="914.20" y1="903.00" x2="921.50" y2="903.00" stroke="#000" stroke-width="0.6" />
<line x1="153.50" y1="894.80" x2="160.80" y2="894.80" stroke="#000" stroke-width="0.6" />
<line x1="914.20" y1="894.80" x2="921.50" y2="894.80" stroke="#000" stroke-width="0.6" />
<line x1="153.50" y1="890.70" x2="160.80" y2="890.70" stroke="#000" stroke-width="0.6" />
<line x1="914.20" y1="890.70" x2="921.50" y2="890.70" stroke="#000" stroke-width="0.6" />
<line x1="153.50" y1="886.60" x2="160.80" y2="886.60" stroke="#000" stroke-width="0.6" />
<line x1="914.20" y1="886.60" x2="921.50" y2="886.60" stroke="#000" stroke-width="0.6" />
<line x1="153.50" y1="882.50" x2="160.80" y2="882.50" stroke="#000" stroke-width="0.6" />
<line x1="914.20" y1="882.50" x2="921.50" y2="882.50" stroke="#000" stroke-width="0.6" />
<line x1="153.50" y1="874.30" x2="160.80" y2="874.30" stroke="#000" stroke-width="0.6" />
<line x1="914.20" y1="874.30" x2="921.50" y2="874.30" stroke="#000" stroke-width="0.6" />
<line x1="153.50" y1="870.20" x2="160.80" y2="870.20" stroke="#000" stroke-width="0.6" />
<line x1="914.20" y1="870.20" x2="921.50" y2="870.20" stroke="#000" stroke-width="0.6" />
<line x1="201.50" y1="873.90" x2="201.50" y2="957.60" stroke="#000" stroke-width="1.1" stroke-dasharray="4 5.65"/>
<line x1="201.50" y1="957.60" x2="201.50" y2="972.60" stroke="#000" stroke-width="1.1" />
<line x1="393.50" y1="873.90" x2="393.50" y2="957.60" stroke="#000" stroke-width="1.1" stroke-dasharray="4 5.65"/>
<line x1="393.50" y1="957.60" x2="393.50" y2="972.60" stroke="#000" stroke-width="1.1" />
<line x1="585.50" y1="873.90" x2="585.50" y2="957.60" stroke="#000" stroke-width="1.1" stroke-dasharray="4 5.65"/>
<line x1="585.50" y1="957.60" x2="585.50" y2="972.60" stroke="#000" stroke-width="1.1" />
<line x1="777.50" y1="873.90" x2="777.50" y2="957.60" stroke="#000" stroke-width="1.1" stroke-dasharray="4 5.65"/>
<line x1="777.50" y1="957.60" x2="777.50" y2="972.60" stroke="#000" stroke-width="1.1" />
<line x1="297.50" y1="965.60" x2="297.50" y2="972.60" stroke="#000" stroke-width="0.7" />
<line x1="489.50" y1="965.60" x2="489.50" y2="972.60" stroke="#000" stroke-width="0.7" />
<line x1="681.50" y1="965.60" x2="681.50" y2="972.60" stroke="#000" stroke-width="0.7" />
<line x1="873.50" y1="965.60" x2="873.50" y2="972.60" stroke="#000" stroke-width="0.7" />
<path d="M153.8,882.1 C154.53,882.22 156.55,882.30 158.2,882.8 C159.85,883.30 161.88,884.27 163.7,885.1 C165.52,885.93 167.28,886.88 169.1,887.8 C170.92,888.72 172.55,889.85 174.6,890.6 C176.65,891.35 179.12,891.73 181.4,892.3 C183.68,892.87 186.02,893.38 188.3,894.0 C190.58,894.62 192.93,895.37 195.1,896.0 C197.27,896.63 199.25,897.27 201.3,897.8 C203.35,898.33 205.23,898.58 207.4,899.2 C209.57,899.82 211.78,900.88 214.3,901.5 C216.82,902.12 219.55,902.60 222.5,902.9 C225.45,903.20 228.58,903.42 232.0,903.3 C235.42,903.18 239.80,902.45 243.0,902.2 C246.20,901.95 248.47,901.68 251.2,901.8 C253.93,901.92 256.45,902.53 259.4,902.9 C262.35,903.27 265.72,903.93 268.9,904.0 C272.08,904.07 275.53,903.48 278.5,903.3 C281.47,903.12 284.48,903.08 286.7,902.9 C288.92,902.72 288.90,902.55 291.8,902.2 C294.70,901.85 300.45,901.27 304.1,900.8 C307.75,900.33 310.97,899.55 313.7,899.4 C316.43,899.25 317.77,899.43 320.5,899.9 C323.23,900.37 327.35,901.25 330.1,902.2 C332.85,903.15 334.48,904.58 337.0,905.6 C339.52,906.62 342.47,907.92 345.2,908.3 C347.93,908.68 349.77,907.97 353.4,907.9 C357.03,907.83 362.45,907.90 367.0,907.9 C371.55,907.90 377.05,907.83 380.7,907.9 C384.35,907.97 386.17,908.17 388.9,908.3 C391.63,908.43 394.82,908.85 397.1,908.7 C399.38,908.55 400.78,907.98 402.6,907.4 C404.42,906.82 405.95,905.62 408.0,905.2 C410.05,904.78 412.90,904.82 414.9,904.9 C416.90,904.98 417.78,905.40 420.0,905.7 C422.22,906.00 425.47,906.47 428.2,906.7 C430.93,906.93 433.90,907.27 436.4,907.1 C438.90,906.93 440.70,906.00 443.2,905.7 C445.70,905.40 448.43,905.30 451.4,905.3 C454.37,905.30 458.25,905.53 461.0,905.7 C463.75,905.87 464.93,906.13 467.9,906.3 C470.87,906.47 475.38,906.68 478.8,906.7 C482.22,906.72 485.43,906.63 488.4,906.4 C491.37,906.17 493.87,905.60 496.6,905.3 C499.33,905.00 502.30,904.83 504.8,904.6 C507.30,904.37 509.55,904.40 511.6,903.9 C513.65,903.40 515.28,902.32 517.1,901.6 C518.92,900.88 521.13,899.67 522.5,899.6 C523.87,899.53 524.15,900.55 525.3,901.2 C526.45,901.85 527.58,903.27 529.4,903.5 C531.22,903.73 534.38,902.60 536.2,902.6 C538.02,902.60 538.70,902.75 540.3,903.5 C541.90,904.25 543.97,906.00 545.8,907.1 C547.63,908.20 549.77,909.40 551.3,910.1 C552.83,910.80 553.25,910.77 555.0,911.3 C556.75,911.83 559.52,912.85 561.8,913.3 C564.08,913.75 566.18,913.55 568.7,914.0 C571.22,914.45 574.17,915.63 576.9,916.0 C579.63,916.37 583.17,916.35 585.1,916.2 C587.03,916.05 587.37,914.88 588.5,915.1 C589.63,915.32 590.65,916.63 591.9,917.5 C593.15,918.37 594.17,919.52 596.0,920.3 C597.83,921.08 600.17,921.55 602.9,922.2 C605.63,922.85 608.98,923.57 612.4,924.2 C615.82,924.83 619.75,925.28 623.4,926.0 C627.05,926.72 630.67,927.70 634.3,928.5 C637.93,929.30 641.55,929.92 645.2,930.8 C648.85,931.68 653.00,932.82 656.2,933.8 C659.40,934.78 661.67,935.72 664.4,936.7 C667.13,937.68 669.87,938.78 672.6,939.7 C675.33,940.62 678.07,941.37 680.8,942.2 C683.53,943.03 686.10,943.63 689.0,944.7 C691.90,945.77 695.30,947.53 698.2,948.6 C701.10,949.67 703.67,950.18 706.4,951.1 C709.13,952.02 711.63,953.20 714.6,954.1 C717.57,955.00 721.00,955.75 724.2,956.5 C727.40,957.25 730.38,958.10 733.8,958.6 C737.22,959.10 740.60,959.12 744.7,959.5 C748.80,959.88 753.85,960.53 758.4,960.9 C762.95,961.27 768.82,961.47 772.0,961.7 C775.18,961.93 775.22,962.02 777.5,962.3 C779.78,962.58 782.05,962.88 785.7,963.4 C789.35,963.92 794.85,964.77 799.4,965.4 C803.95,966.03 809.18,966.75 813.0,967.2 C816.82,967.65 818.00,967.72 822.3,968.1 C826.60,968.48 833.78,969.50 838.8,969.5 C843.82,969.50 848.30,968.67 852.4,968.1 C856.50,967.53 859.98,966.73 863.4,966.1 C866.82,965.47 869.03,964.80 872.9,964.3 C876.77,963.80 883.18,963.15 886.6,963.1 C890.02,963.05 890.43,963.50 893.4,964.0 C896.37,964.50 901.20,965.52 904.4,966.1 C907.60,966.68 909.87,967.27 912.6,967.5 C915.33,967.73 919.43,967.50 920.8,967.5" fill="none" stroke="#0000ff" stroke-width="1.25" stroke-linejoin="round" stroke-linecap="butt"/>
<path d="M153.8,874.6 C154.53,874.87 156.55,875.52 158.2,876.2 C159.85,876.88 161.42,877.85 163.7,878.7 C165.98,879.55 169.17,880.50 171.9,881.3 C174.63,882.10 177.13,882.68 180.1,883.5 C183.07,884.32 186.17,885.30 189.7,886.2 C193.23,887.10 197.67,888.07 201.3,888.9 C204.93,889.73 208.20,890.47 211.5,891.2 C214.80,891.93 217.90,892.65 221.1,893.3 C224.30,893.95 227.52,894.65 230.7,895.1 C233.88,895.55 237.25,896.00 240.2,896.0 C243.15,896.00 245.20,895.28 248.4,895.1 C251.60,894.92 255.30,894.90 259.4,894.9 C263.50,894.90 269.58,895.37 273.0,895.1 C276.42,894.83 277.90,893.90 279.9,893.3 C281.90,892.70 283.23,892.30 285.0,891.5 C286.77,890.70 288.68,889.73 290.5,888.5 C292.32,887.27 293.85,885.23 295.9,884.1 C297.95,882.97 300.28,882.33 302.8,881.7 C305.32,881.07 308.50,880.18 311.0,880.3 C313.50,880.42 315.30,881.53 317.8,882.4 C320.30,883.27 323.03,884.42 326.0,885.5 C328.97,886.58 332.40,887.77 335.6,888.9 C338.80,890.03 341.78,891.27 345.2,892.3 C348.62,893.33 352.47,894.25 356.1,895.1 C359.73,895.95 363.35,896.75 367.0,897.4 C370.65,898.05 373.90,898.48 378.0,899.0 C382.10,899.52 388.18,899.97 391.6,900.5 C395.02,901.03 396.43,901.70 398.5,902.2 C400.57,902.70 401.95,903.43 404.0,903.5 C406.05,903.57 408.13,902.75 410.8,902.6 C413.47,902.45 417.10,902.50 420.0,902.6 C422.90,902.70 424.78,902.98 428.2,903.2 C431.62,903.42 436.17,903.85 440.5,903.9 C444.83,903.95 450.32,903.72 454.2,903.5 C458.08,903.28 460.38,902.98 463.8,902.6 C467.22,902.22 471.28,901.78 474.7,901.2 C478.12,900.62 481.12,899.72 484.3,899.1 C487.48,898.48 490.85,897.90 493.8,897.5 C496.75,897.10 499.27,896.82 502.0,896.7 C504.73,896.58 507.47,896.62 510.2,896.8 C512.93,896.98 516.12,897.68 518.4,897.8 C520.68,897.92 522.07,897.85 523.9,897.5 C525.73,897.15 527.58,896.07 529.4,895.7 C531.22,895.33 532.52,895.63 534.8,895.3 C537.08,894.97 540.35,893.85 543.1,893.7 C545.85,893.55 548.18,894.32 551.3,894.4 C554.42,894.48 558.90,894.33 561.8,894.2 C564.70,894.07 566.42,893.53 568.7,893.6 C570.98,893.67 573.68,894.15 575.5,894.6 C577.32,895.05 578.00,895.58 579.6,896.3 C581.20,897.02 583.50,897.93 585.1,898.9 C586.70,899.87 587.60,901.07 589.2,902.1 C590.80,903.13 593.33,904.65 594.7,905.1 C596.07,905.55 596.03,904.57 597.4,904.8 C598.77,905.03 600.85,906.03 602.9,906.5 C604.95,906.97 606.75,907.27 609.7,907.6 C612.65,907.93 616.95,908.17 620.6,908.5 C624.25,908.83 628.40,909.23 631.6,909.6 C634.80,909.97 637.07,910.42 639.8,910.7 C642.53,910.98 645.27,911.37 648.0,911.3 C650.73,911.23 653.47,910.92 656.2,910.3 C658.93,909.68 661.67,908.45 664.4,907.6 C667.13,906.75 669.87,905.85 672.6,905.2 C675.33,904.55 678.07,904.07 680.8,903.7 C683.53,903.33 686.55,903.03 689.0,903.0 C691.45,902.97 693.05,902.90 695.5,903.5 C697.95,904.10 701.20,905.73 703.7,906.6 C706.20,907.47 707.77,908.08 710.5,908.7 C713.23,909.32 716.68,909.90 720.1,910.3 C723.52,910.70 726.90,910.57 731.0,911.1 C735.10,911.63 740.13,912.65 744.7,913.5 C749.27,914.35 754.30,915.45 758.4,916.2 C762.50,916.95 765.88,917.55 769.3,918.0 C772.72,918.45 775.72,918.58 778.9,918.9 C782.08,919.22 784.98,919.55 788.4,919.9 C791.82,920.25 795.75,920.63 799.4,921.0 C803.05,921.37 806.88,921.80 810.3,922.1 C813.72,922.40 816.75,922.65 819.9,922.8 C823.05,922.95 826.28,922.97 829.2,923.0 C832.12,923.03 835.12,923.15 837.4,923.0 C839.68,922.85 840.85,922.72 842.9,922.1 C844.95,921.48 847.20,920.63 849.7,919.3 C852.20,917.97 855.17,915.68 857.9,914.1 C860.63,912.52 863.37,910.98 866.1,909.8 C868.83,908.62 871.33,907.68 874.3,907.0 C877.27,906.32 881.17,905.77 883.9,905.7 C886.63,905.63 887.97,905.92 890.7,906.6 C893.43,907.28 896.88,908.95 900.3,909.8 C903.72,910.65 907.78,911.25 911.2,911.7 C914.62,912.15 919.20,912.37 920.8,912.5" fill="none" stroke="#ff0000" stroke-width="1.25" stroke-linejoin="round" stroke-linecap="butt"/>
<line x1="153.50" y1="878.40" x2="921.50" y2="878.40" stroke="#000" stroke-width="1.0" />
<text x="0" y="0" text-anchor="end" font-size="20.0" transform="translate(139.60,885.60) scale(1,1.046)">5</text>
<line x1="153.50" y1="898.90" x2="921.50" y2="898.90" stroke="#000" stroke-width="1.0" />
<text x="0" y="0" text-anchor="end" font-size="20.0" transform="translate(139.60,906.10) scale(1,1.046)">0</text>
<line x1="153.50" y1="919.40" x2="921.50" y2="919.40" stroke="#000" stroke-width="1.0" />
<text x="0" y="0" text-anchor="end" font-size="20.0" transform="translate(139.60,926.60) scale(1,1.046)">-5</text>
<line x1="153.50" y1="939.90" x2="921.50" y2="939.90" stroke="#000" stroke-width="1.0" />
<g transform="translate(139.60,947.10) scale(1,1.046)"><text x="0" y="0" text-anchor="end" font-size="20.0">- 0</text><path d="M512,0 L689,0 L689,1369 L600,1369 C570,1230 470,1110 300,1094 L196,1094 L196,990 L340,990 C420,990 480,970 512,925 Z" transform="translate(-22.25,0) scale(0.00977,-0.00977)"/></g>
<line x1="153.50" y1="960.40" x2="921.50" y2="960.40" stroke="#000" stroke-width="1.0" />
<g transform="translate(139.60,967.60) scale(1,1.046)"><text x="0" y="0" text-anchor="end" font-size="20.0">- 5</text><path d="M512,0 L689,0 L689,1369 L600,1369 C570,1230 470,1110 300,1094 L196,1094 L196,990 L340,990 C420,990 480,970 512,925 Z" transform="translate(-22.25,0) scale(0.00977,-0.00977)"/></g>
<rect x="153.5" y="870.2" width="768.0" height="102.39999999999998" fill="none" stroke="#000" stroke-width="1.3"/>
<text x="0" y="0" text-anchor="middle" font-size="20.0" transform="translate(201.50,1001.90) scale(1,1.046)">Dec 22/00</text>
<text x="0" y="0" text-anchor="middle" font-size="20.0" transform="translate(393.50,1001.90) scale(1,1.046)">Dec 23/00</text>
<text x="0" y="0" text-anchor="middle" font-size="20.0" transform="translate(585.50,1001.90) scale(1,1.046)">Dec 24/00</text>
<text x="0" y="0" text-anchor="middle" font-size="20.0" transform="translate(777.50,1001.90) scale(1,1.046)">Dec 25/00</text>
<text x="0" y="0" text-anchor="middle" font-size="21.1" transform="translate(94.90,921.40) scale(1.046,1) rotate(-90)">T / Td [*C]</text>
</svg>
</body></html>
